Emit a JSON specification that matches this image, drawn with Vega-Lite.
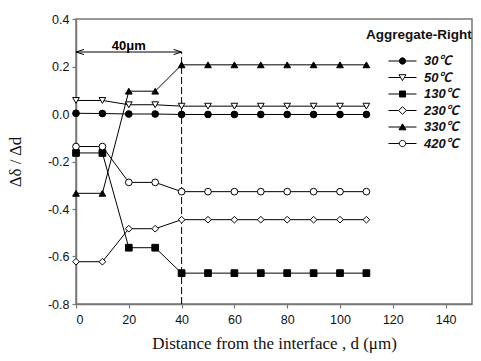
{
  "$schema": "https://vega.github.io/schema/vega-lite/v6.json",
  "width": 396,
  "height": 285,
  "autosize": {"type": "none"},
  "padding": {"left": 76, "top": 19, "right": 9, "bottom": 57},
  "background": "white",
  "config": {
    "view": {"stroke": "#777777", "strokeWidth": 1.5},
    "axis": {
      "grid": false,
      "domainColor": "#777777",
      "domainWidth": 1.5,
      "tickColor": "#777777",
      "tickWidth": 1.2,
      "tickSize": 4,
      "labelFont": "Liberation Sans",
      "labelFontSize": 12.5,
      "labelColor": "#111111",
      "titleFont": "Liberation Serif",
      "titleFontWeight": "normal",
      "titleFontSize": 17,
      "titleColor": "#111111"
    },
    "legend": {
      "title": "Aggregate-Right",
      "orient": "none",
      "legendX": 290,
      "legendY": 9,
      "titleFont": "Liberation Sans",
      "titleFontSize": 13.5,
      "titleFontWeight": "bold",
      "titleColor": "#111111",
      "titlePadding": 13,
      "labelFont": "Liberation Sans, Noto Sans CJK SC",
      "labelFontSize": 13,
      "labelFontStyle": "italic",
      "labelFontWeight": "bold",
      "labelColor": "#111111",
      "labelAlign": "left",
      "symbolSize": 49,
      "symbolStrokeWidth": 1,
      "symbolStrokeColor": "black",
      "symbolOpacity": 1,
      "symbolOffset": 0,
      "labelOffset": 45,
      "rowPadding": 2.5
    }
  },
  "datasets": {
    "profiles": [
      {"series": "30℃", "d": 0, "v": 0.003}, {"series": "30℃", "d": 10, "v": 0.002}, {"series": "30℃", "d": 20, "v": 0.0}, {"series": "30℃", "d": 30, "v": 0.0},
      {"series": "30℃", "d": 40, "v": -0.002}, {"series": "30℃", "d": 50, "v": -0.002}, {"series": "30℃", "d": 60, "v": -0.002}, {"series": "30℃", "d": 70, "v": -0.002},
      {"series": "30℃", "d": 80, "v": -0.002}, {"series": "30℃", "d": 90, "v": -0.002}, {"series": "30℃", "d": 100, "v": -0.002}, {"series": "30℃", "d": 110, "v": -0.002},
      {"series": "50℃", "d": 0, "v": 0.057}, {"series": "50℃", "d": 10, "v": 0.057}, {"series": "50℃", "d": 20, "v": 0.039}, {"series": "50℃", "d": 30, "v": 0.039},
      {"series": "50℃", "d": 40, "v": 0.033}, {"series": "50℃", "d": 50, "v": 0.033}, {"series": "50℃", "d": 60, "v": 0.033}, {"series": "50℃", "d": 70, "v": 0.033},
      {"series": "50℃", "d": 80, "v": 0.033}, {"series": "50℃", "d": 90, "v": 0.033}, {"series": "50℃", "d": 100, "v": 0.033}, {"series": "50℃", "d": 110, "v": 0.033},
      {"series": "130℃", "d": 0, "v": -0.164}, {"series": "130℃", "d": 10, "v": -0.164}, {"series": "130℃", "d": 20, "v": -0.563}, {"series": "130℃", "d": 30, "v": -0.563},
      {"series": "130℃", "d": 40, "v": -0.67}, {"series": "130℃", "d": 50, "v": -0.67}, {"series": "130℃", "d": 60, "v": -0.67}, {"series": "130℃", "d": 70, "v": -0.67},
      {"series": "130℃", "d": 80, "v": -0.67}, {"series": "130℃", "d": 90, "v": -0.67}, {"series": "130℃", "d": 100, "v": -0.67}, {"series": "130℃", "d": 110, "v": -0.67},
      {"series": "230℃", "d": 0, "v": -0.622}, {"series": "230℃", "d": 10, "v": -0.622}, {"series": "230℃", "d": 20, "v": -0.483}, {"series": "230℃", "d": 30, "v": -0.483},
      {"series": "230℃", "d": 40, "v": -0.445}, {"series": "230℃", "d": 50, "v": -0.445}, {"series": "230℃", "d": 60, "v": -0.445}, {"series": "230℃", "d": 70, "v": -0.445},
      {"series": "230℃", "d": 80, "v": -0.445}, {"series": "230℃", "d": 90, "v": -0.445}, {"series": "230℃", "d": 100, "v": -0.445}, {"series": "230℃", "d": 110, "v": -0.445},
      {"series": "330℃", "d": 0, "v": -0.334}, {"series": "330℃", "d": 10, "v": -0.334}, {"series": "330℃", "d": 20, "v": 0.096}, {"series": "330℃", "d": 30, "v": 0.096},
      {"series": "330℃", "d": 40, "v": 0.207}, {"series": "330℃", "d": 50, "v": 0.207}, {"series": "330℃", "d": 60, "v": 0.207}, {"series": "330℃", "d": 70, "v": 0.207},
      {"series": "330℃", "d": 80, "v": 0.207}, {"series": "330℃", "d": 90, "v": 0.207}, {"series": "330℃", "d": 100, "v": 0.207}, {"series": "330℃", "d": 110, "v": 0.207},
      {"series": "420℃", "d": 0, "v": -0.137}, {"series": "420℃", "d": 10, "v": -0.137}, {"series": "420℃", "d": 20, "v": -0.288}, {"series": "420℃", "d": 30, "v": -0.288},
      {"series": "420℃", "d": 40, "v": -0.327}, {"series": "420℃", "d": 50, "v": -0.327}, {"series": "420℃", "d": 60, "v": -0.327}, {"series": "420℃", "d": 70, "v": -0.327},
      {"series": "420℃", "d": 80, "v": -0.327}, {"series": "420℃", "d": 90, "v": -0.327}, {"series": "420℃", "d": 100, "v": -0.327}, {"series": "420℃", "d": 110, "v": -0.327}
    ]
  },
  "encoding": {
    "x": {
      "type": "quantitative",
      "scale": {"domain": [0, 150], "nice": false, "zero": false},
      "axis": {
        "title": "Distance from the interface , d (μm)",
        "values": [0, 20, 40, 60, 80, 100, 120, 140],
        "labelPadding": 5,
        "titlePadding": 10
      }
    },
    "y": {
      "type": "quantitative",
      "scale": {"domain": [-0.8, 0.4], "nice": false, "zero": false},
      "axis": {
        "title": "Δδ / Δd",
        "values": [-0.8, -0.6, -0.4, -0.2, 0, 0.2, 0.4],
        "format": ".1f",
        "labelExpr": "replace(datum.label, '−', '-')",
        "labelPadding": 3,
        "titlePadding": 23
      }
    }
  },
  "layer": [
    {
      "description": "dashed marker of the 40 µm zone boundary",
      "data": {"values": [{"d": 40, "lo": -0.8, "hi": 0.261}]},
      "mark": {"type": "rule", "color": "black", "strokeWidth": 1, "strokeDash": [7, 3]},
      "encoding": {"x": {"field": "d"}, "y": {"field": "lo"}, "y2": {"field": "hi"}}
    },
    {
      "description": "span arrow shaft",
      "data": {"values": [{"from": 0, "to": 40, "at": 0.261}]},
      "mark": {"type": "rule", "color": "black", "strokeWidth": 1},
      "encoding": {"x": {"field": "from"}, "x2": {"field": "to"}, "y": {"field": "at"}}
    },
    {
      "description": "left arrowhead",
      "data": {"values": [{"d": 0, "at": 0.261}]},
      "mark": {"type": "point", "shape": "M4,-1.3L0,0L4,1.3", "size": 16, "filled": false, "stroke": "black", "strokeWidth": 1, "opacity": 1},
      "encoding": {"x": {"field": "d"}, "y": {"field": "at"}}
    },
    {
      "description": "right arrowhead",
      "data": {"values": [{"d": 40, "at": 0.261}]},
      "mark": {"type": "point", "shape": "M-4,-1.3L0,0L-4,1.3", "size": 16, "filled": false, "stroke": "black", "strokeWidth": 1, "opacity": 1},
      "encoding": {"x": {"field": "d"}, "y": {"field": "at"}}
    },
    {
      "data": {"values": [{"d": 20, "at": 0.286, "label": "40μm"}]},
      "mark": {"type": "text", "font": "Liberation Sans", "fontWeight": "bold", "fontSize": 13, "color": "black", "baseline": "middle", "align": "center"},
      "encoding": {"x": {"field": "d"}, "y": {"field": "at"}, "text": {"field": "label"}}
    },
    {
      "data": {"name": "profiles"},
      "mark": {"type": "line", "color": "black", "strokeWidth": 1},
      "encoding": {
        "x": {"field": "d"},
        "y": {"field": "v"},
        "detail": {"field": "series", "type": "nominal"}
      }
    },
    {
      "data": {"name": "profiles"},
      "mark": {"type": "point", "stroke": "black", "strokeWidth": 1, "size": 45, "opacity": 1},
      "encoding": {
        "x": {"field": "d"},
        "y": {"field": "v"},
        "shape": {
          "field": "series", "type": "nominal",
          "scale": {"domain": ["30℃", "50℃", "130℃", "230℃", "330℃", "420℃"], "range": ["circle", "triangle-down", "square", "diamond", "triangle-up", "circle"]},
          "legend": null
        },
        "fill": {
          "field": "series", "type": "nominal",
          "scale": {"domain": ["30℃", "50℃", "130℃", "230℃", "330℃", "420℃"], "range": ["black", "white", "black", "white", "black", "white"]},
          "legend": null
        }
      }
    },
    {
      "description": "key entries: marker with a short line stub on each side, drawn right of the symbol anchor",
      "data": {"name": "profiles"},
      "mark": {"type": "point", "stroke": "black", "strokeWidth": 1, "size": 49, "opacity": 0},
      "encoding": {
        "x": {"field": "d"},
        "y": {"field": "v"},
        "shape": {
          "field": "series", "type": "nominal",
          "scale": {
            "domain": ["30℃", "50℃", "130℃", "230℃", "330℃", "420℃"],
            "range": [
              "M4.571,0H7.671M9.471,0H12.571M7.671,0A0.9,0.9,0,1,1,9.471,0A0.9,0.9,0,1,1,7.671,0Z",
              "M4.571,0H8.071M9.071,0H12.571M7.571,-0.8L9.571,-0.8L8.571,0.9Z",
              "M4.571,0H7.721M9.421,0H12.571M7.721,-0.85H9.421V0.85H7.721Z",
              "M4.571,0H7.471M9.671,0H12.571M8.571,-1.1L9.671,0L8.571,1.1L7.471,0Z",
              "M4.571,0H8.071M9.071,0H12.571M8.571,-0.9L9.571,0.8L7.571,0.8Z",
              "M4.571,0H7.671M9.471,0H12.571M7.671,0A0.9,0.9,0,1,1,9.471,0A0.9,0.9,0,1,1,7.671,0Z"
            ]
          },
          "legend": {
            "title": "Aggregate-Right",
            "encode": {
              "symbols": {"update": {"stroke": {"value": "black"}, "strokeWidth": {"value": 1}, "opacity": {"value": 1}}},
              "labels": {"update": {"align": {"value": "left"}}}
            }
          }
        },
        "fill": {
          "field": "series", "type": "nominal",
          "scale": {"domain": ["30℃", "50℃", "130℃", "230℃", "330℃", "420℃"], "range": ["black", "white", "black", "white", "black", "white"]},
          "legend": {
            "title": "Aggregate-Right",
            "encode": {
              "symbols": {"update": {"stroke": {"value": "black"}, "strokeWidth": {"value": 1}, "opacity": {"value": 1}}},
              "labels": {"update": {"align": {"value": "left"}}}
            }
          }
        }
      }
    }
  ],
  "resolve": {
    "scale": {"shape": "independent", "fill": "independent"},
    "legend": {"shape": "independent", "fill": "independent"}
  }
}
